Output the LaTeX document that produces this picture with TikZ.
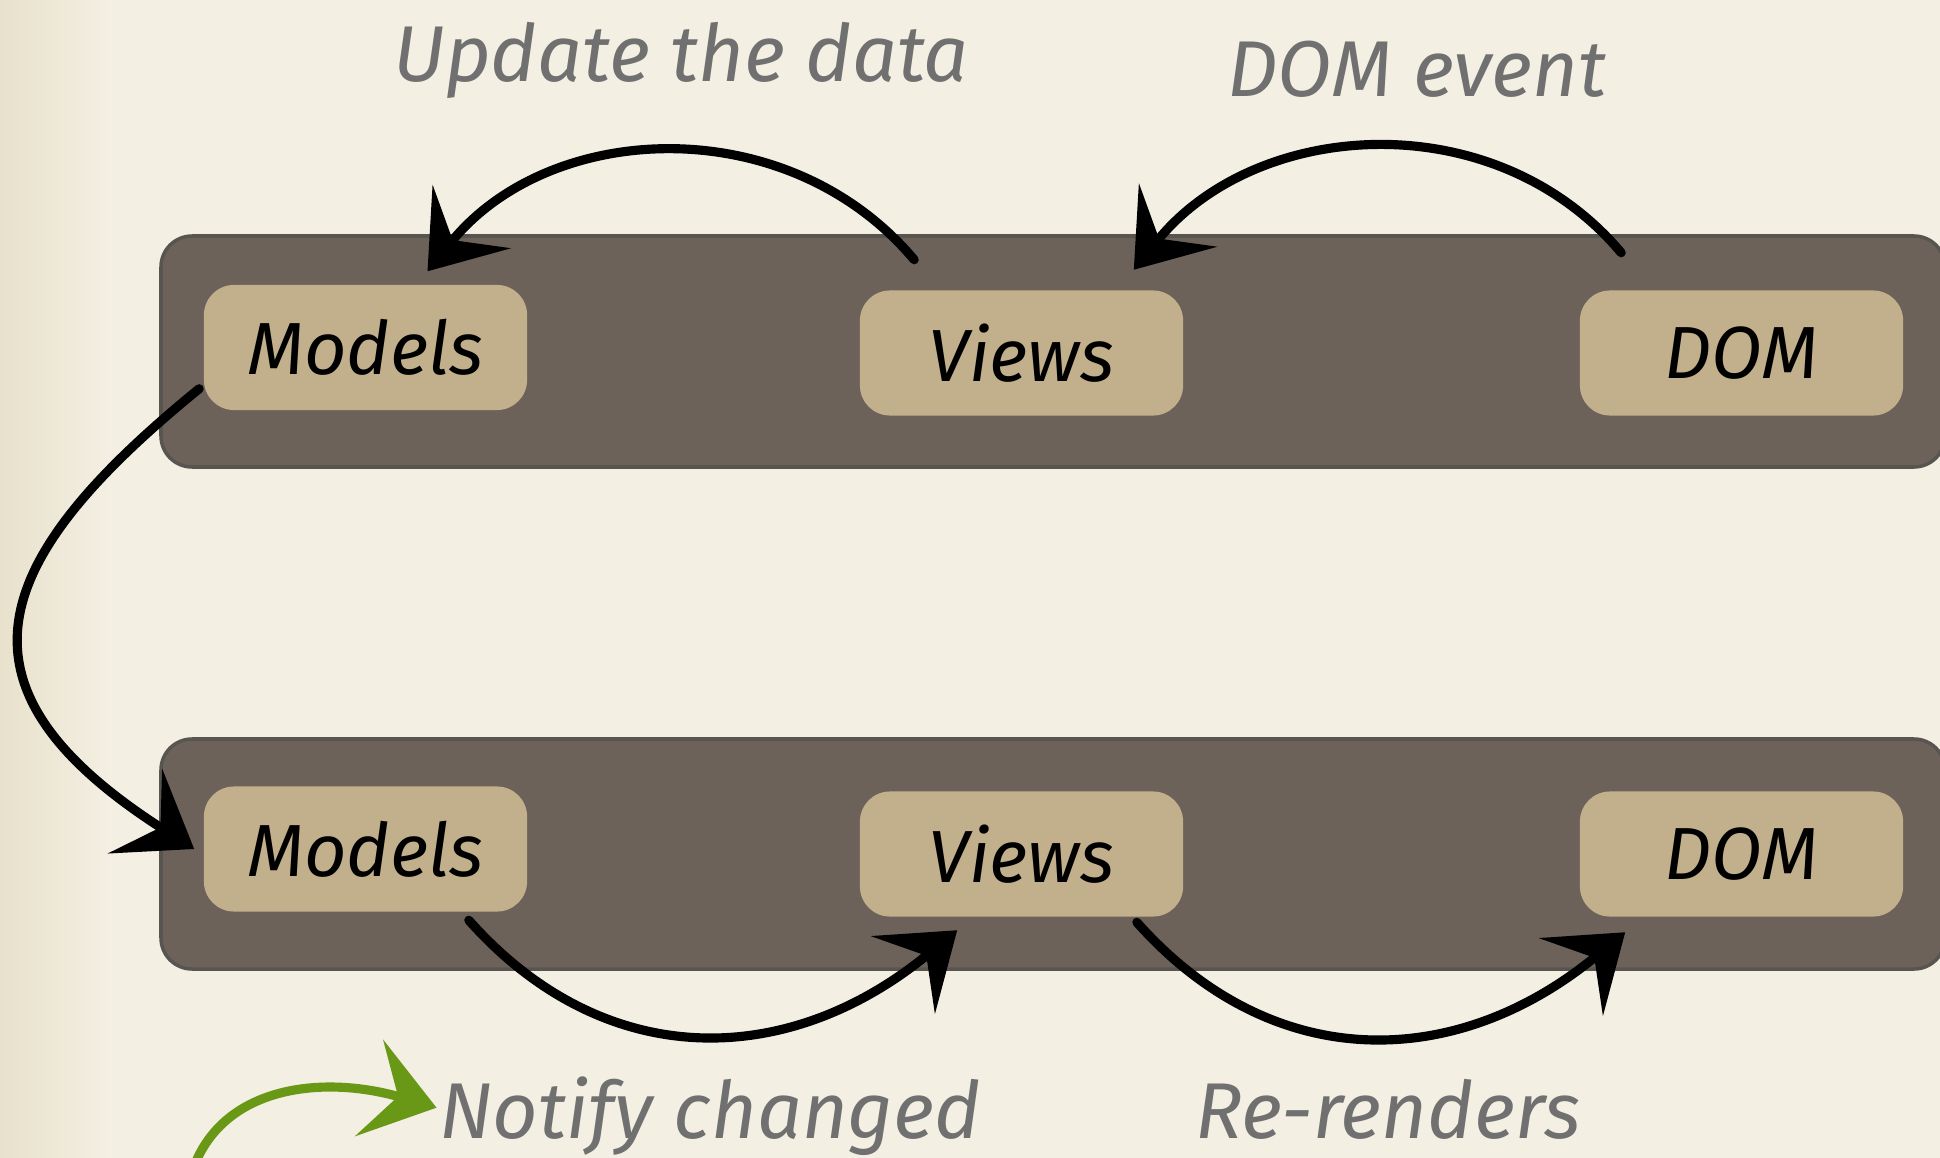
\documentclass[tikz,border=0pt]{standalone}
\usepackage{fontspec}
\setmainfont{Fira Sans}
\usetikzlibrary{positioning, arrows.meta}

\definecolor{paper}{RGB}{243,239,226}
\definecolor{paperedge}{RGB}{232,225,204}
\definecolor{bandfill}{RGB}{108,98,90}
\definecolor{bandline}{RGB}{88,85,81}
\definecolor{tanbox}{RGB}{194,176,140}
\definecolor{labelgray}{RGB}{112,112,112}
\definecolor{leaf}{RGB}{104,152,22}

\begin{document}
\begin{tikzpicture}[x=0.01cm, y=-0.01cm,
    layer/.style={draw=bandline, line width=1pt, fill=bandfill, rounded corners=0.31cm},
    part/.style={rectangle, fill=tanbox, rounded corners=0.3cm, minimum width=3.23cm,
        minimum height=1.25cm, inner sep=0pt, font=\itshape\fontsize{21}{25}\selectfont},
    caption/.style={anchor=base, inner sep=0pt, text=labelgray,
        font=\itshape\fontsize{22.5}{27}\selectfont},
    brush/.style={line width=2.6pt, line cap=round,
        -{Stealth[length=0.7cm, width=1cm, inset=0.3cm]}}]

\useasboundingbox (0,0) rectangle (1940,1158);
\clip (0,0) rectangle (1940,1158);

% paper
\fill[paper] (0,0) rectangle (1940,1158);
\shade[left color=paperedge, right color=paper] (0,0) rectangle (110,1158);

% the two layers
\draw[layer] (161,236) rectangle (1945,467);
\draw[layer] (161,739) rectangle (1945,969);

% first row
\node[part] (models1) at (365.5,347.5) {Models};
\node[part] (views1) at (1021.5,353) {Views};
\node[part] (dom1) at (1741.5,353) {DOM};

% second row
\node[part] (models2) at (365.5,849) {Models};
\node[part] (views2) at (1021.5,854) {Views};
\node[part] (dom2) at (1741.5,854) {DOM};

% labels
\node[caption] (update) at (681,82) {Update the data};
\node[caption] (event) at (1417,97) {DOM event};
\node[caption] (notify) at (710,1138) {Notify changed};
\node[caption] (render) at (1388,1138) {Re-renders};

% arrows on top
\draw[brush] ([shift={(55,-30)}]views1.north west) .. controls +(-126,-150) and +(123,-152) .. ([shift={(62,-13)}]models1.north);
\draw[brush] ([shift={(42,-37)}]dom1.north west) .. controls +(-126,-150) and +(123,-152) .. ([shift={(-50,-20)}]views1.north east);

% down to the second row
\draw[brush] ([shift={(-4,-22)}]models1.south west) .. controls +(-215,175) and +(-250,-160) .. ([shift={(-9,0)}]models2.west);

% arrows below
\draw[brush] ([shift={(-59,8)}]models2.south east) .. controls +(135,152) and +(-170,140) .. ([shift={(98,13)}]views2.south west);
\draw[brush] ([shift={(-47,5)}]views2.south east) .. controls +(135,152) and +(-170,140) .. ([shift={(46,15)}]dom2.south west);

% green one
\coordinate (greenstart) at (192,1172);
\draw[brush, leaf] (greenstart) .. controls +(29,-87) and +(-113,-33) .. ([shift={(-2,-8)}]notify.west);

\end{tikzpicture}
\end{document}
